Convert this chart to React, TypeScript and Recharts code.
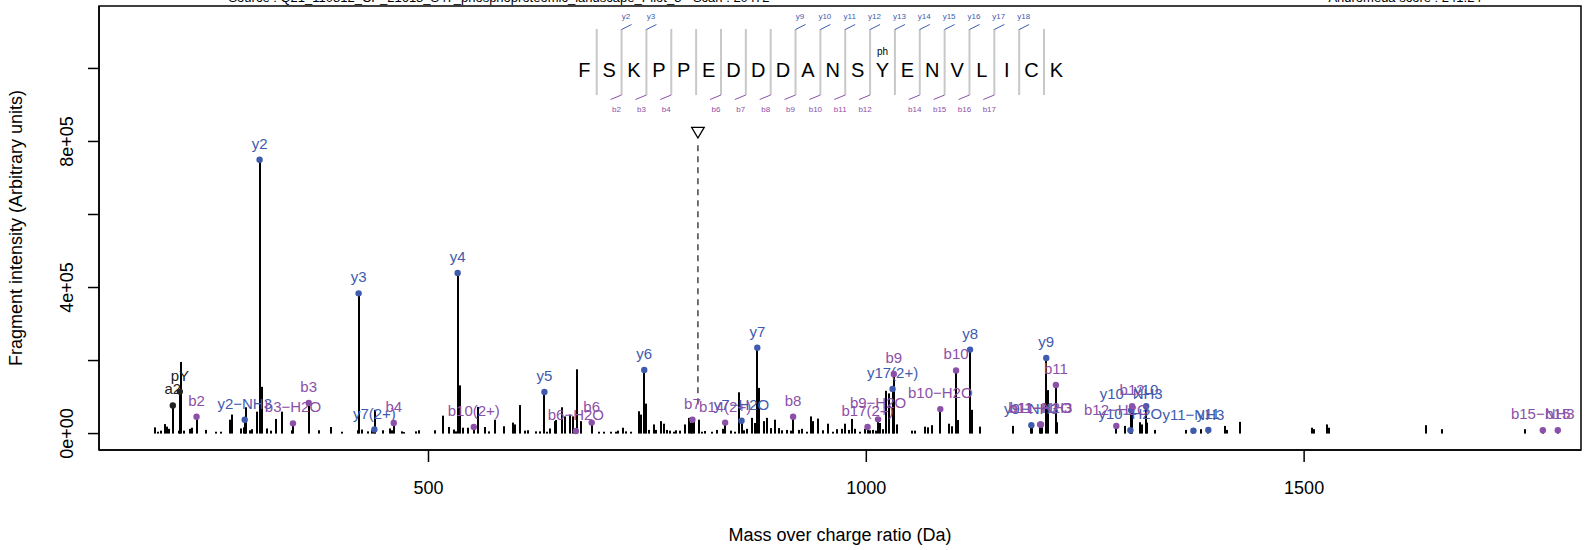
import React from 'react';
import {
  ComposedChart,
  Bar,
  Scatter,
  XAxis,
  YAxis,
  ReferenceArea,
  ReferenceLine,
} from 'recharts';

// unmatched fragment peaks (m/z, intensity in thousands)
const noiseMz = [
  187.6, 191.4, 194.4, 199.0, 201.3, 203.9, 214.9, 216.9, 220.6, 227.4, 229.7,
  246.4, 257.8, 262.7, 273.0, 275.6, 286.3, 289.3, 291.6, 296.6, 298.5, 304.4,
  309.6, 315.5, 320.4, 326.1, 333.0, 343.9, 375.5, 388.8, 400.9, 419.2, 423.7,
  430.6, 435.1, 439.5, 448.2, 455.8, 458.1, 469.9, 472.4, 486.2, 489.5, 507.1,
  517.0, 523.4, 529.1, 531.3, 536.3, 539.0, 544.6, 556.0, 564.4, 569.3, 576.1,
  586.4, 596.0, 598.6, 604.6, 610.0, 613.8, 622.5, 627.4, 635.8, 638.5, 644.5,
  646.1, 652.9, 655.6, 661.6, 665.0, 670.0, 673.8, 694.6, 700.4, 708.0, 713.7,
  716.5, 722.4, 726.0, 730.8, 741.0, 743.0, 748.6, 751.6, 757.3, 759.3, 765.0,
  768.7, 772.6, 775.5, 780.1, 783.0, 787.7, 793.5, 797.2, 800.0, 803.7, 809.4,
  812.5, 815.6, 823.9, 829.6, 836.0, 845.0, 850.4, 855.0, 860.5, 863.8, 869.5,
  873.2, 877.8, 882.7, 886.5, 891.1, 896.0, 899.8, 904.0, 909.3, 913.5, 922.6,
  926.4, 932.1, 936.7, 939.7, 945.4, 950.0, 956.1, 962.5, 966.5, 972.0, 975.8,
  980.0, 983.4, 987.2, 992.9, 998.6, 1004.5, 1008.0, 1011.0, 1015.7, 1019.0,
  1022.5, 1026.3, 1034.7, 1051.8, 1055.6, 1067.0, 1070.7, 1074.6, 1094.7,
  1097.4, 1104.9, 1120.5, 1129.6, 1167.6, 1189.2, 1201.1, 1207.4, 1217.8,
  1296.0, 1312.7, 1315.0, 1320.7, 1330.2, 1365.2, 1382.3, 1410.0, 1411.9,
  1427.0, 1508.6, 1510.9, 1526.4, 1528.3, 1638.7, 1657.5, 1752.8,
];
const noiseIntensity = [
  17, 5, 8, 26, 19, 13, 8, 196, 8, 13, 16,
  10, 5, 5, 38, 52, 14, 17, 72, 9, 12, 60,
  128, 14, 8, 40, 60, 9, 9, 18, 5, 9, 11,
  6, 9, 65, 9, 14, 9, 6, 4, 6, 9, 9,
  49, 18, 11, 6, 132, 16, 16, 73, 18, 6, 38,
  20, 30, 25, 78, 8, 9, 6, 6, 5, 14, 34,
  37, 72, 47, 52, 47, 176, 34, 5, 5, 5, 5,
  8, 16, 6, 5, 61, 52, 82, 10, 25, 10, 34,
  27, 10, 8, 5, 9, 8, 25, 43, 30, 38, 38,
  5, 7, 5, 10, 13, 8, 5, 113, 9, 13, 43,
  29, 125, 34, 43, 15, 38, 15, 9, 10, 8, 10,
  13, 5, 47, 34, 41, 9, 27, 5, 12, 13, 27,
  10, 40, 13, 5, 13, 9, 10, 8, 29, 12,
  117, 110, 25, 8, 8, 19, 17, 23, 27,
  20, 37, 65, 19, 21, 15, 17, 119, 31,
  21, 31, 25, 30, 10, 10, 12, 21, 10,
  32, 16, 12, 25, 16, 23, 12, 12,
];

// matched y ions
const yIonLabels = [
  'y2−NH3', 'y2', 'y3', 'y7(2+)', 'y4', 'y5', 'y6', 'y7−H2O', 'y7', 'y17(2+)',
  'y8', 'y9−NH3', 'y9', 'y10−H2O', 'y10−NH3', 'y10', 'y11−NH3', 'y11',
];
const yIonMz = [
  290.1, 307.1, 420.2, 438.2, 533.3, 632.4, 746.4, 857.5, 875.5, 1030.0,
  1118.5, 1188.5, 1205.5, 1301.6, 1302.5, 1319.6, 1373.6, 1390.6,
];
const yIonIntensity = [
  38, 750, 384, 11, 440, 114, 174, 35, 235, 122,
  230, 23, 207, 9, 64, 75, 8, 10,
];

// matched b ions
const bIonLabels = [
  'b2', 'b3−H2O', 'b3', 'b4', 'b10(2+)', 'b6−H2O', 'b6', 'b7', 'b14(2+)', 'b8',
  'b17(2+)', 'b9−H2O', 'b9', 'b10−H2O', 'b10', 'b11−H2O', 'b11−NH3', 'b11',
  'b12−H2O', 'b12', 'b15−NH3', 'b15',
];
const bIonMz = [
  235.1, 345.2, 363.2, 460.3, 551.7, 668.3, 686.4, 801.4, 838.8, 916.4,
  1001.4, 1013.4, 1031.4, 1084.5, 1102.5, 1198.5, 1199.5, 1216.5,
  1285.5, 1303.5, 1772.6, 1789.7,
];
const bIonIntensity = [
  46, 28, 84, 29, 18, 7, 30, 38, 30, 46,
  18, 39, 163, 67, 173, 25, 25, 133,
  21, 75, 9, 9,
];

// other annotated peaks
const otherLabels = ['a2', 'pY'];
const otherMz = [208.0, 216.0];
const otherIntensity = [77, 115];

const precursorMz = 807.7;
const precursorLineFrom = 80;
const precursorLineTo = 802;
const precursorMarkerAt = 824;

const peptide = ['F', 'S', 'K', 'P', 'P', 'E', 'D', 'D', 'D', 'A', 'N', 'S', 'Y', 'E', 'N', 'V', 'L', 'I', 'C', 'K'];
const phosphoSite = 12;
const yMarks = [2, 3, 9, 10, 11, 12, 13, 14, 15, 16, 17, 18];
const bMarks = [2, 3, 4, 6, 7, 8, 9, 10, 11, 12, 14, 15, 16, 17];

const xTicks = [500, 1000, 1500];
const yTicks = [0, 200000, 400000, 600000, 800000, 1000000];
const yTickLabels = ['0e+00', '', '4e+05', '', '8e+05', ''];

const xDomain = [123.7, 1816.2];
const yDomain = [-45000, 1171000];

const BLUE = '#3E5BAE';
const PURPLE = '#8B50A8';
const FONT = "'Liberation Sans', Arial, Helvetica, sans-serif";

const toRows = (mz: number[], inten: number[], labels?: string[]) =>
  mz.map((m, i) => ({ mz: m, intensity: inten[i] * 1000, label: labels ? labels[i] : '' }));

const yIons = toRows(yIonMz, yIonIntensity, yIonLabels);
const bIons = toRows(bIonMz, bIonIntensity, bIonLabels);
const others = toRows(otherMz, otherIntensity, otherLabels);
const peaks = [...toRows(noiseMz, noiseIntensity), ...yIons, ...bIons, ...others].sort(
  (a, b) => a.mz - b.mz
);
const precursorPoint = [{ mz: precursorMz, intensity: precursorMarkerAt * 1000 }];

// snap each peak stick to whole pixels so it stays solid black
const PeakStick = (props: any) => {
  const { x, y, width, height } = props;
  if (height == null || height <= 0) return null;
  const cx = Math.round(x + width / 2);
  return <rect x={cx - 1} y={y} width={2} height={height} fill="#000" />;
};

const labelledDot = (color: string) => (props: any) => {
  const { cx, cy, payload } = props;
  return (
    <g>
      <circle cx={cx} cy={cy} r={3.2} fill={color} />
      <text x={cx} y={cy - 11} textAnchor="middle" fill={color} fontSize={15} fontFamily={FONT}>
        {payload.label}
      </text>
    </g>
  );
};

const triangle = (props: any) => {
  const { cx, cy } = props;
  return (
    <path
      d={`M${cx - 6.3},${cy - 5.3} L${cx + 6.3},${cy - 5.3} L${cx},${cy + 5.3} Z`}
      fill="#fff"
      stroke="#000"
      strokeWidth={1.3}
    />
  );
};

const YTick = (props: any) => {
  const { x, y, index } = props;
  const label = yTickLabels[index];
  if (!label) return null;
  const bx = x - 13;
  return (
    <text
      x={bx}
      y={y}
      transform={`rotate(-90, ${bx}, ${y})`}
      textAnchor="middle"
      fontSize={18}
      fontFamily={FONT}
      fill="#000"
    >
      {label}
    </text>
  );
};

const XTick = (props: any) => {
  const { x, y, payload } = props;
  return (
    <text x={x} y={y + 30} textAnchor="middle" fontSize={18} fontFamily={FONT} fill="#000">
      {payload.value}
    </text>
  );
};

// peptide sequence annotation drawn above the spectrum
const SEQ_X0 = 584.3;
const SEQ_STEP = 24.85;

function SequenceAnnotation() {
  const sepX = (j: number) => SEQ_X0 + (j - 0.5) * SEQ_STEP;
  return (
    <g fontFamily={FONT}>
      {peptide.slice(1).map((_, k) => (
        <line key={'s' + k} x1={sepX(k + 1)} x2={sepX(k + 1)} y1={29} y2={95} stroke="#c8c8c8" strokeWidth={2} />
      ))}
      {peptide.map((aa, i) => (
        <text key={'a' + i} x={SEQ_X0 + i * SEQ_STEP} y={76.5} textAnchor="middle" fontSize={20} fill="#000">
          {aa}
        </text>
      ))}
      <text x={SEQ_X0 + phosphoSite * SEQ_STEP} y={55} textAnchor="middle" fontSize={10} fill="#000">
        ph
      </text>
      {yMarks.map((j) => (
        <g key={'y' + j}>
          <line x1={sepX(j)} y1={29.5} x2={sepX(j) + 10} y2={24.5} stroke={BLUE} strokeWidth={1} />
          <text x={sepX(j) + 4.5} y={19} textAnchor="middle" fontSize={8} fill={BLUE}>
            {'y' + j}
          </text>
        </g>
      ))}
      {bMarks.map((j) => (
        <g key={'b' + j}>
          <line x1={sepX(j)} y1={95} x2={sepX(j) - 11} y2={99.5} stroke={PURPLE} strokeWidth={1} />
          <text x={sepX(j) - 5} y={112} textAnchor="middle" fontSize={8} fill={PURPLE}>
            {'b' + j}
          </text>
        </g>
      ))}
    </g>
  );
}

export default function App() {
  return (
    <div style={{ position: 'relative', width: 1596, height: 550, background: '#fff' }}>
      <style>{'body{margin:0;}'}</style>
      <ComposedChart
        width={1596}
        height={550}
        data={peaks}
        margin={{ top: 6, right: 15, bottom: 0, left: 0 }}
      >
        <XAxis
          dataKey="mz"
          type="number"
          domain={xDomain}
          allowDataOverflow
          ticks={xTicks}
          tickSize={12}
          height={100}
          tick={<XTick />}
          stroke="#000"
          strokeWidth={1.5}
        />
        <YAxis
          type="number"
          domain={yDomain}
          allowDataOverflow
          ticks={yTicks}
          tickSize={11}
          width={99}
          tick={<YTick />}
          stroke="#000"
          strokeWidth={1.5}
        />
        <ReferenceArea
          x1={xDomain[0]}
          x2={xDomain[1]}
          y1={yDomain[0]}
          y2={yDomain[1]}
          fill="none"
          stroke="#000"
          strokeWidth={1.5}
          ifOverflow="visible"
        />
        <Bar dataKey="intensity" fill="#000" barSize={2} shape={PeakStick} isAnimationActive={false} />
        <ReferenceLine
          segment={[
            { x: precursorMz, y: precursorLineFrom * 1000 },
            { x: precursorMz, y: precursorLineTo * 1000 },
          ]}
          stroke="#444"
          strokeWidth={1.5}
          strokeDasharray="6 5"
        />
        <Scatter data={others} dataKey="intensity" shape={labelledDot('#222')} isAnimationActive={false} />
        <Scatter data={yIons} dataKey="intensity" shape={labelledDot(BLUE)} isAnimationActive={false} />
        <Scatter data={bIons} dataKey="intensity" shape={labelledDot(PURPLE)} isAnimationActive={false} />
        <Scatter data={precursorPoint} dataKey="intensity" shape={triangle} isAnimationActive={false} />
      </ComposedChart>
      <svg
        width={1596}
        height={550}
        style={{ position: 'absolute', left: 0, top: 0, pointerEvents: 'none' }}
      >
        <text x={499} y={2} textAnchor="middle" fontSize={13} fontFamily={FONT} fill="#000">
          Source : Q21_110812_CP_21618_S47_phosphoproteomic_landscape_Pilot_3 - Scan : 20472
        </text>
        <text x={1405} y={2} textAnchor="middle" fontSize={13} fontFamily={FONT} fill="#000">
          Andromeda score : 241.24
        </text>
        <SequenceAnnotation />
        <text x={840} y={541} textAnchor="middle" fontSize={18} fontFamily={FONT} fill="#000">
          Mass over charge ratio (Da)
        </text>
        <text
          x={22}
          y={228}
          transform="rotate(-90, 22, 228)"
          textAnchor="middle"
          fontSize={18}
          fontFamily={FONT}
          fill="#000"
        >
          Fragment intensity (Arbitrary units)
        </text>
      </svg>
    </div>
  );
}
